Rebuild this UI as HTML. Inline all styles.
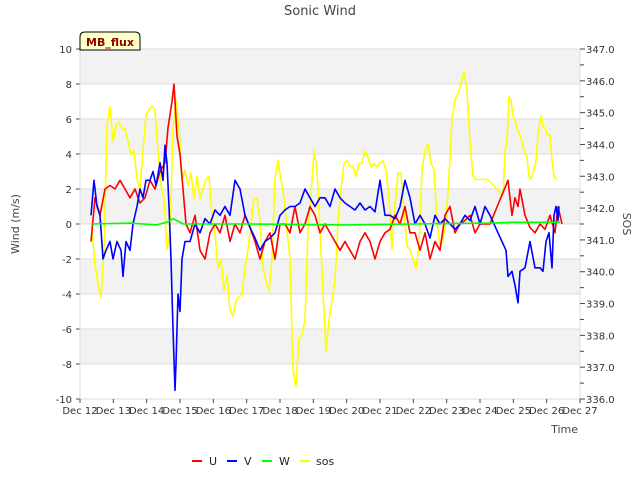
<!DOCTYPE html>
<html><head><meta charset="utf-8"><style>
html,body{margin:0;padding:0;background:#fff;}
svg{display:block;font-family:"DejaVu Sans","Liberation Sans",sans-serif;}
</style></head><body>
<svg id="chart" width="640" height="480">
<text x="320" y="15" text-anchor="middle" font-size="13" fill="#444">Sonic Wind</text>
<g id="bands"></g><g id="grid"></g>
<g id="series"></g>
<g id="axes"></g>
<g>
<path d="M80,50 L80,37 Q80,32 85,32 L135,32 Q140,32 140,37 L140,50 Z" fill="#ffffc8" stroke="#000" stroke-width="1"/>
<text x="110" y="46" text-anchor="middle" font-size="11" font-weight="bold" fill="#8b0000">MB_flux</text>
</g>
<text transform="translate(19,224) rotate(-90)" text-anchor="middle" font-size="11" fill="#444">Wind (m/s)</text>
<text transform="translate(623,224) rotate(90)" text-anchor="middle" font-size="11" fill="#444">SOS</text>
<text x="578" y="433" text-anchor="end" font-size="11" fill="#444">Time</text>
<g id="legend"></g>
</svg>
<script>
const xTickLabels=["Dec 12","Dec 13","Dec 14","Dec 15","Dec 16","Dec 17","Dec 18","Dec 19","Dec 20","Dec 21","Dec 22","Dec 23","Dec 24","Dec 25","Dec 26","Dec 27"];
const yTicks=[-10,-8,-6,-4,-2,0,2,4,6,8,10];
const y2Ticks=[336,337,338,339,340,341,342,343,344,345,346,347];
const uTimesHead=[0.33,0.45,0.60,0.75,0.90,1.05,1.20,1.35,1.50,1.65,1.80,1.95,2.10,2.25,2.40,2.55,2.64,2.76,2.82,2.91,3.00,3.09,3.18];
const uHead=[-1,1.5,0.5,2,2.2,2,2.5,2,1.5,2,1.2,1.5,2.5,2,3,3.5,5.5,7,8,5,4,2,0];
const uMid=[-0.5,0.5,-1.5,-2,-0.5,0,-0.5,0.5,-1,0,-0.5,0.5,-0.2,-1,-2,-1,-0.5,-2,0,0,-0.5,1,-0.5,0,1,0.5,-0.5,0,-0.5,-1,-1.5,-1,-1.5,-2,-1,-0.5,-1,-2,-1,-0.5,-0.3,0.5,0,1,-0.5,-0.5,-1.5,-0.5,-2,-1,-1.5,0.5,1,-0.5,0,0.2,0.5,-0.5,0,0,0];
const uTimesTail=[12.84,12.96,13.05,13.14,13.20,13.35,13.50,13.65,13.80,13.95,14.10,14.25,14.34,14.46];
const uTail=[2.5,0.5,1.5,1,2,0.5,-0.2,-0.5,0,-0.3,0.5,-0.5,1,0];
const vTimesHead=[0.33,0.42,0.51,0.60,0.69,0.78,0.90,0.99,1.11,1.23,1.29,1.38,1.50,1.59,1.71,1.80,1.89,1.98,2.10,2.19,2.28,2.40,2.49,2.55,2.61,2.67,2.73,2.79,2.85,2.88,2.94,3.00,3.06,3.15];
const vHead=[0.5,2.5,1,0.5,-2,-1.5,-1,-2,-1,-1.5,-3,-1,-1.5,0,1,2,1.5,2.5,2.5,3,2.2,3.5,2.5,4.5,3.5,1,-2,-6,-9.5,-8,-4,-5,-2,-1];
const vMid=[-1,0,-0.5,0.3,0,0.8,0.5,1,0.5,2.5,2,0.5,-0.2,-0.8,-1.5,-1,-0.8,-0.5,0.5,0.8,1,1,1.2,2,1.5,1,1.5,1.5,1,2,1.5,1.2,1,0.8,1.2,0.8,1,0.7,2.5,0.5,0.5,0.3,1,2.5,1.5,0,0.5,0,-0.8,0.5,0,0.3,0,-0.3,0,0.5,0.2,1,0,1,0.5];
const vTimesTail=[12.78,12.84,12.96,13.05,13.14,13.20,13.35,13.50,13.65,13.80,13.89,13.98,14.07,14.16,14.22,14.28,14.34,14.37];
const vTail=[-1.5,-3,-2.7,-3.5,-4.5,-2.7,-2.5,-1,-2.5,-2.5,-2.7,-1,-0.5,-2.5,0.5,1,0.2,1];
const midStart=3.30, midStep=0.15;
const wTimes=[0.33,1.5,2.3,2.6,2.8,2.9,3.1,5,8,10,12.3,13,14.4];
const wVals=[0,0.05,-0.05,0.1,0.3,0.2,0,0,-0.05,0,0.05,0.1,0.1];
const sosHead=[341.3,340.2,339.6,339.2,340.7,344.6,345.2,344.1,344.6,344.7,
344.5,344.5,344.1,343.7,343.8,342.9,342.6,343.8,344.9,345.1,
345.2,345.1,343.8,342.7,342.3,340.7,341.2,344.5,345.4,344.5,
342.9,343.2,342.7,343.1,342.3,343.0,342.3,342.6,342.9,343.0,
341.8,341.2,340.1,340.4,339.4,339.9,338.8,338.6,339.1,339.2,
339.3,340.1,340.7,341.5,342.3,342.3,341.6,340.1,339.7,339.4,
340.4,342.9,343.5,342.9,342.3,341.3,340.4,336.9,336.4,337.9,
338.0,338.5,341.3,342.4,343.8,343.2,341.3,339.4,337.5,338.5,
339.1,339.7,341.6,342.6,343.4,343.5,343.3,343.3,343.0,343.4,
343.4,343.8,343.6,343.3,343.4,343.3,343.4,343.5,343.2,342.3,
340.7,342.1,343.1,343.1,341.9,340.8,340.7,340.4,340.1,340.8,
343.2,343.8,344.0,343.4,343.2,341.6,340.8,341.0,341.6,343.0,
344.8,345.4,345.6,345.9,346.3,345.7,344.1,343.0,342.9];
const sosStart=0.36, sosStep=0.09;
const sosTimesTail=[12.24,12.69,12.75,12.81,12.87,12.93,12.99,13.05,13.11,13.20,13.26,13.32,13.41,13.47,13.53,13.59,13.68,13.74,13.83,13.89,13.95,14.01,14.10,14.16,14.22,14.31];
const sosTail=[342.9,342.4,343.8,344.1,345.5,345.4,344.9,344.8,344.5,344.3,344.1,343.8,343.6,343.0,342.9,343.1,343.5,344.3,344.9,344.6,344.5,344.3,344.3,343.5,343.0,342.9];

const NS="http://www.w3.org/2000/svg";
const L=80,R=580,T=49,B=399;
const xs=d=>L+d*(R-L)/15;
const ys=v=>B-(v+10)*(B-T)/20;
const ys2=v=>B-(v-336)*(B-T)/11;
function mk(tag,attrs,parent){const e=document.createElementNS(NS,tag);for(const k in attrs)e.setAttribute(k,attrs[k]);parent.appendChild(e);return e;}
const bands=document.getElementById('bands'),grid=document.getElementById('grid'),axes=document.getElementById('axes'),series=document.getElementById('series'),legend=document.getElementById('legend');
for(let i=0;i<yTicks.length-1;i++){
  if(i%2===1){const r=mk('rect',{x:L,y:ys(yTicks[i+1]),width:R-L,height:ys(yTicks[i])-ys(yTicks[i+1]),fill:'#f2f2f2'},bands);
  
  }
}
yTicks.forEach(v=>{
  const g=mk('line',{x1:L,x2:R,y1:ys(v),y2:ys(v),stroke:'#dcdcdc','stroke-width':1},grid);
  
  
  mk('line',{x1:L-4,x2:L,y1:ys(v),y2:ys(v),stroke:'#444'},axes);
  const t=mk('text',{x:L-8,y:ys(v)+4,'text-anchor':'end','font-size':10,fill:'#333'},axes);t.textContent=v;
  
  
});
mk('line',{x1:L,x2:L,y1:T,y2:B,stroke:'#dcdcdc'},axes);
mk('line',{x1:R,x2:R,y1:T,y2:B,stroke:'#dcdcdc'},axes);
y2Ticks.forEach((v,i)=>{
  mk('line',{x1:R,x2:R+5,y1:ys2(v),y2:ys2(v),stroke:'#444'},axes);
  if(i<y2Ticks.length-1) mk('line',{x1:R,x2:R+4,y1:ys2(v+0.5),y2:ys2(v+0.5),stroke:'#444'},axes);
  const t=mk('text',{x:R+6,y:ys2(v)+4,'font-size':10,fill:'#333'},axes);t.textContent=v.toFixed(1);
  
  
});
xTickLabels.forEach((s,i)=>{
  mk('line',{x1:xs(i),x2:xs(i),y1:B,y2:B+4,stroke:'#444'},axes);
  const t=mk('text',{x:xs(i),y:B+15,'text-anchor':'middle','font-size':10,fill:'#333'},axes);t.textContent=s;
  
  
});
function midTimes(n){const a=[];for(let i=0;i<n;i++)a.push(midStart+i*midStep);return a;}
const uT=uTimesHead.concat(midTimes(uMid.length),uTimesTail), uV=uHead.concat(uMid,uTail);
const vT=vTimesHead.concat(midTimes(vMid.length),vTimesTail), vV=vHead.concat(vMid,vTail);
const sT=[];for(let i=0;i<sosHead.length;i++)sT.push(sosStart+i*sosStep);
const sosT=sT.concat(sosTimesTail), sosV=sosHead.concat(sosTail);
function line(ts,vs,sc,color,name){
  const p=mk('polyline',{points:ts.map((t,i)=>xs(t).toFixed(1)+','+sc(vs[i]).toFixed(1)).join(' '),fill:'none',stroke:color,'stroke-width':1.6,'stroke-linejoin':'round'},series);
  
  
}
line(sosT,sosV,ys2,'#ffff00','sos-line');
line(uT,uV,ys,'#ff0000','u-line');
line(vT,vV,ys,'#0000ff','v-line');
line(wTimes,wVals,ys,'#00ff00','w-line');
const leg=[['U','#ff0000',192,209],['V','#0000ff',227,244],['W','#00ff00',262,279],['sos','#ffff00',300,316]];
leg.forEach(l=>{
  const g=mk('g',{},legend);
  
  
  mk('line',{x1:l[2],x2:l[2]+10,y1:461,y2:461,stroke:l[1],'stroke-width':2},g);
  const t=mk('text',{x:l[3],y:465,'font-size':11,fill:'#222'},g);t.textContent=l[0];
});
</script>
</body></html>
